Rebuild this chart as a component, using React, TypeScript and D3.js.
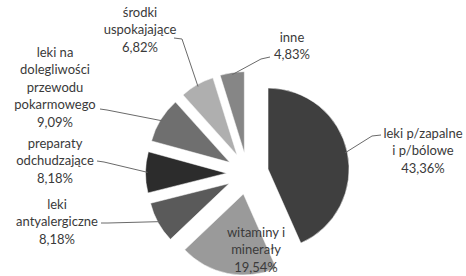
import React from "react";
import * as d3 from "d3";

const categories = [
  "leki p/zapalne i p/bólowe",
  "witaminy i minerały",
  "leki antyalergiczne",
  "preparaty odchudzające",
  "leki na dolegliwości przewodu pokarmowego",
  "środki uspokajające",
  "inne",
];
const values = [43.36, 19.54, 8.18, 8.18, 9.09, 6.82, 4.83];
const valueLabels = ["43,36%", "19,54%", "8,18%", "8,18%", "9,09%", "6,82%", "4,83%"];
const labelLines = [
  ["leki p/zapalne", "i p/bólowe"],
  ["witaminy i", "minerały"],
  ["leki", "antyalergiczne"],
  ["preparaty", "odchudzające"],
  ["leki na", "dolegliwości", "przewodu", "pokarmowego"],
  ["środki", "uspokajające"],
  ["inne"],
];
const colors = ["#3f3f3f", "#9a9a9a", "#5a5a5a", "#2c2c2c", "#6f6f6f", "#afafaf", "#868686"];

// layout: label center x, first line center y, leader start & elbow (null = no leader)
const labelPos = [
  { x: 423, y: 133, leader: [[381, 135], [372, 136]] },
  { x: 256, y: 232, leader: null },
  { x: 57, y: 204, leader: [[101, 223], [108, 223]] },
  { x: 55, y: 143, leader: [[97, 161], [104, 162]] },
  { x: 55, y: 52, leader: [[100, 109], [107, 110]] },
  { x: 140, y: 12, leader: [[174, 38], [182, 39]] },
  { x: 292, y: 37, leader: [[270, 57], [261, 59]] },
];

const W = 466;
const H = 276;
const cx = 247.5;
const cy = 173.4;
const R = 81;
const EXPLODE = 21;
const LINE_H = 17.6;

export default function App() {
  const pie = d3.pie<number>().sort(null).value((d) => d).startAngle(0).endAngle(2 * Math.PI);
  const arcs = pie(values);
  const arc = d3.arc<d3.PieArcDatum<number>>().innerRadius(0).outerRadius(R);

  return (
    <div style={{ position: "absolute", left: 0, top: 0 }}>
      <svg width={W} height={H} style={{ display: "block", background: "#fff" }}>
        <g transform={`translate(${cx},${cy})`}>
          {arcs.map((a, i) => {
            const mid = (a.startAngle + a.endAngle) / 2;
            const dx = Math.sin(mid) * EXPLODE;
            const dy = -Math.cos(mid) * EXPLODE;
            return (
              <path
                key={i}
                d={arc(a) || ""}
                transform={`translate(${dx},${dy})`}
                fill={colors[i]}
                stroke="#ffffff"
                strokeWidth={0.5}
              />
            );
          })}
        </g>
        {arcs.map((a, i) => {
          const lp = labelPos[i];
          if (!lp.leader) return null;
          const mid = (a.startAngle + a.endAngle) / 2;
          const ex = cx + Math.sin(mid) * (EXPLODE + R - 2);
          const ey = cy - Math.cos(mid) * (EXPLODE + R - 2);
          const pts = [...lp.leader, [ex, ey]];
          return (
            <polyline
              key={"l" + i}
              points={pts.map((p) => p.join(",")).join(" ")}
              fill="none"
              stroke="#6a6a6a"
              strokeWidth={1}
            />
          );
        })}
        {categories.map((c, i) => {
          const lp = labelPos[i];
          const lines = [...labelLines[i], valueLabels[i]];
          return (
            <text
              key={"t" + i}
              textAnchor="middle"
              fontFamily="Lato, 'Open Sans', sans-serif"
              fontSize={13}
              fill="#3a3a3a"
            >
              {lines.map((ln, j) => (
                <tspan key={j} x={lp.x} y={lp.y + j * LINE_H + 4.5}>
                  {ln}
                </tspan>
              ))}
            </text>
          );
        })}
      </svg>
    </div>
  );
}
